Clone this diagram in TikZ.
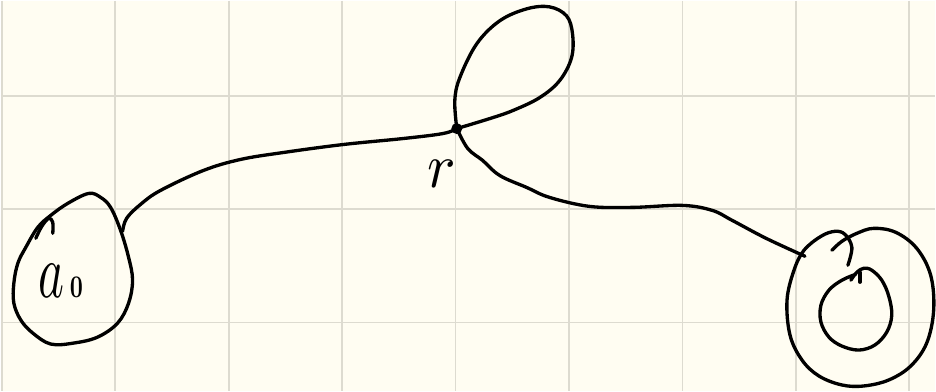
\documentclass[tikz,border=0pt]{standalone}
\usepackage{amsmath}
\usetikzlibrary{positioning}
\definecolor{paper}{RGB}{255,253,242}
\definecolor{gridgray}{RGB}{221,219,208}

\begin{document}
\begin{tikzpicture}[
  x=0.02cm, y=-0.02cm,
  node distance=0.5cm,
  pen/.style={line width=1.9pt, line cap=round, line join=round},
  gridline/.style={draw=gridgray, line width=1pt},
  dot/.style={circle, fill, inner sep=0pt, minimum size=0.22cm},
  hand/.style={inner sep=2pt}
]
  % paper and grid
  \fill[paper] (0,0) rectangle (936,391);
  \foreach \gx in {1,114.7,...,936} \draw[gridline] (\gx,0) -- (\gx,391);
  \foreach \gy in {95,208.7,322.4} \draw[gridline] (0,\gy) -- (936,\gy);

  % states
  \node[hand] (a0) at (60,281)
        {\scalebox{2.8}[4.4]{$a$}\hspace{3pt}\scalebox{1.3}[1.8]{$\mathbf{0}$}};
  \node[dot] (r) at (457,128) {};
  \node[hand, below=0.45cm of r, xshift=-0.3cm] (rlbl) {\scalebox{3.4}[3.6]{$r$}};
  \coordinate (a0out) at (122,231);
  \coordinate (accin) at (806,256);

  % outlines
  \draw[pen] plot[smooth cycle, tension=0.6] coordinates {(88,193) (67,203) (50,215)
    (37,227) (25,247) (17,263) (13,283) (13,303) (20,320) (32,333) (50,344) (73,343)
    (97,337) (117,323) (128,303) (132,280) (128,257) (120,230) (110,207) (100,197)};
  \draw[pen] plot[smooth, tension=0.6] coordinates {(35,238) (41,226) (48,218) (52,222) (52,233)};
  \draw[pen] plot[smooth, tension=0.6] coordinates {(849,265) (853,247) (846,234) (836,231)
    (822,236) (805,250) (795,270) (788,300) (791,335) (803,360) (820,376) (843,385)
    (865,386) (890,380) (912,366) (928,343) (935,310) (932,275) (918,248) (897,232)
    (875,228) (858,233) (843,241) (833,250)};
  \draw[pen] plot[smooth, tension=0.6] coordinates {(857,274) (843,280) (830,290)
    (822,305) (822,322) (830,337) (843,346) (860,350) (876,345) (888,332) (893,315)
    (890,296) (883,280) (873,270) (865,268) (858,272) (852,280)};
  \draw[pen] (861,272) -- (861,282);

  % transitions
  \draw[pen] plot[smooth, tension=0.6] coordinates {(a0out) (126,218) (140,204)
    (160,190) (203,170) (240,159) (283,152) (343,144) (403,138) (443,133) (r.center)};
  \draw[pen] plot[smooth, tension=0.6] coordinates {(r.center) (455,100) (460,77)
    (477,43) (500,20) (527,8) (550,6) (567,15) (573,33) (572,57) (560,80) (540,97)
    (513,110) (490,118) (r.center)};
  \draw[pen] plot[smooth, tension=0.6] coordinates {(r.center) (468,148) (483,160)
    (500,175) (527,187) (550,197) (590,206) (633,207) (683,205) (713,210) (733,220)
    (767,238) (accin)};
\end{tikzpicture}
\end{document}
